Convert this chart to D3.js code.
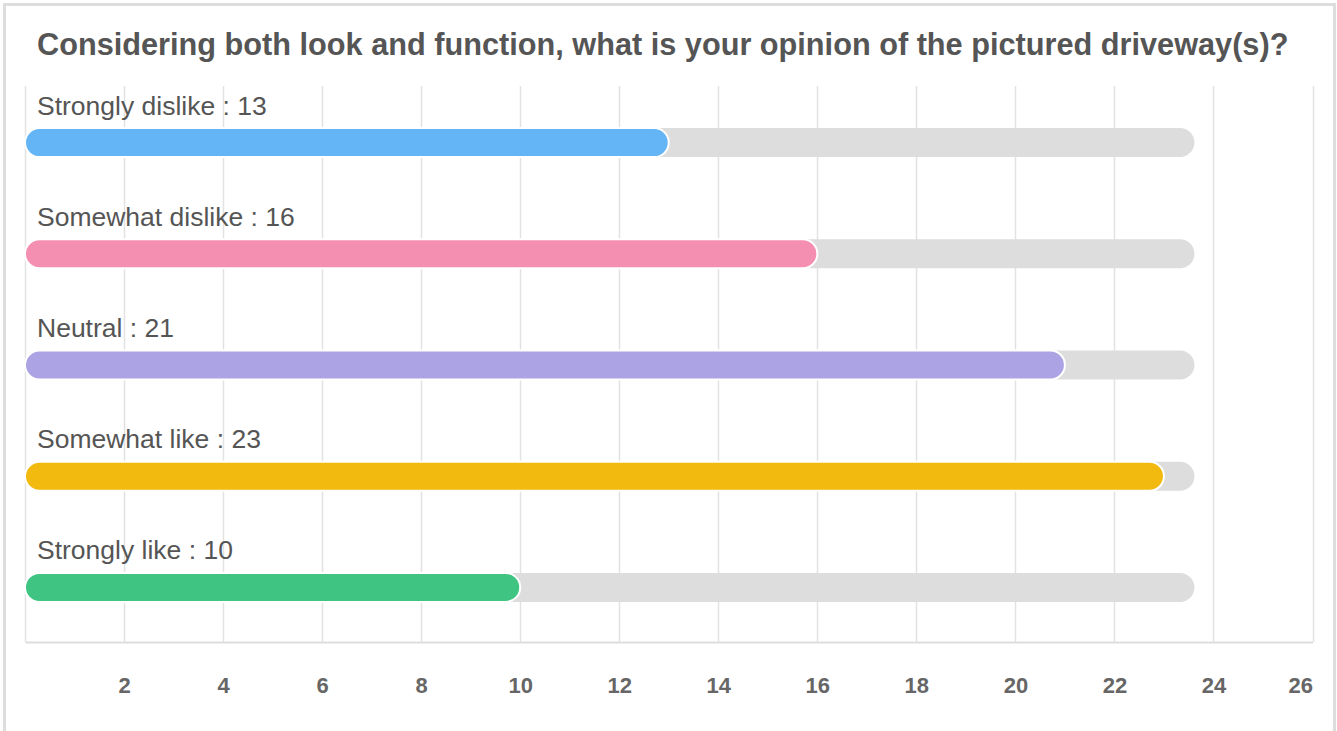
<!DOCTYPE html>
<html>
<head>
<meta charset="utf-8">
<script src="https://cdn.jsdelivr.net/npm/d3@7/dist/d3.min.js"></script>
<style>
  html, body { margin: 0; padding: 0; background: #fff; }
  svg { display: block; font-family: "Liberation Sans", Arial, Helvetica, sans-serif; }
</style>
</head>
<body>
<svg id="chart" width="1337" height="731"></svg>
<script>
// Survey question and answer counts
const title = "Considering both look and function, what is your opinion of the pictured driveway(s)?";
const categories = ["Strongly dislike", "Somewhat dislike", "Neutral", "Somewhat like", "Strongly like"];
const counts = [13, 16, 21, 23, 10];
const barColors = ["#64b5f6", "#f48fb1", "#aba3e4", "#f2b90f", "#3fc481"];
const tickValues = [2, 4, 6, 8, 10, 12, 14, 16, 18, 20, 22, 24, 26];
const gridValues = [0, 2, 4, 6, 8, 10, 12, 14, 16, 18, 20, 22, 24, 26];

const W = 1337, H = 731;
const svg = d3.select("#chart");

// card frame
svg.append("rect")
  .attr("x", 4.5).attr("y", 4.5)
  .attr("width", 1330).attr("height", H + 20)
  .attr("fill", "#fff")
  .attr("stroke", "#dddddd").attr("stroke-width", 3);

svg.append("text")
  .attr("x", 37).attr("y", 55)
  .attr("fill", "#555555")
  .attr("font-size", 30.7)
  .attr("font-weight", "bold")
  .text(title);

const x = d3.scaleLinear().domain([0, 26]).range([25, 1312.5]);
const y = d3.scaleBand().domain(categories).range([86, 642]);
const barH = 29;

// vertical grid
svg.append("g")
  .selectAll("line")
  .data(gridValues)
  .join("line")
  .attr("x1", d => Math.round(x(d)) + 0.5)
  .attr("x2", d => Math.round(x(d)) + 0.5)
  .attr("y1", 86).attr("y2", 642)
  .attr("stroke", "#e2e2e2").attr("stroke-width", 1.5);

// bottom axis
const axis = svg.append("g")
  .attr("transform", "translate(0,642)")
  .call(d3.axisBottom(x).tickValues(tickValues).tickSize(0).tickPadding(0));
axis.select(".domain").attr("stroke", "#dddddd").attr("stroke-width", 2);
axis.selectAll("text")
  .attr("y", 51).attr("dy", 0)
  .attr("fill", "#666666")
  .attr("font-size", 22)
  .attr("font-weight", "bold")
  .attr("font-family", "Liberation Sans, Arial, sans-serif");
axis.selectAll(".tick").filter(d => d === 26).select("text").attr("text-anchor", "end");

const maxCount = d3.max(counts);
const rows = svg.append("g")
  .selectAll("g")
  .data(categories)
  .join("g")
  .attr("transform", c => `translate(0,${y(c) + y.bandwidth() / 2 + 1})`);

// track behind each bar
rows.append("rect")
  .attr("x", x(0))
  .attr("y", -barH / 2)
  .attr("width", x(maxCount) - x(0) + barH + 1.5)
  .attr("height", barH)
  .attr("rx", barH / 2)
  .attr("fill", "#dddddd");

// value bar
rows.append("rect")
  .attr("x", x(0))
  .attr("y", -barH / 2)
  .attr("width", (c, i) => x(counts[i]) - x(0))
  .attr("height", barH)
  .attr("rx", barH / 2)
  .attr("fill", (c, i) => barColors[i])
  .attr("stroke", "#ffffff").attr("stroke-width", 2);

// label above bar
rows.append("text")
  .attr("x", 37)
  .attr("y", -28)
  .attr("fill", "#555555")
  .attr("font-size", 26.5)
  .text((c, i) => `${c} : ${counts[i]}`);
</script>
</body>
</html>
